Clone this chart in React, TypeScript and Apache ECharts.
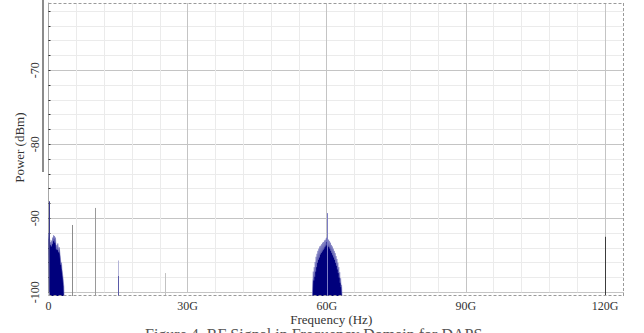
import React, { useEffect, useRef } from 'react';
import * as echarts from 'echarts';

// ---- data (frequency in GHz, power in dBm) ----
const xMajorTicks = [0, 30, 60, 90, 120];
const yMajorTicks = [-100, -90, -80, -70];

const leftClusterFreq = [0.0, 0.1, 0.2, 0.3, 0.4, 0.5, 0.6, 0.7, 0.8, 0.9, 1.0, 1.1, 1.2, 1.3, 1.4, 1.5, 1.6, 1.7, 1.8, 1.9, 2.0, 2.1, 2.2, 2.3, 2.4, 2.5, 2.6, 2.7, 2.8, 2.9, 3.0, 3.1, 3.2, 3.3, 3.35];
const leftClusterPower = [-92.0, -92.8, -93.4, -92.9, -93.6, -93.2, -93.8, -93.0, -93.5, -92.6, -93.1, -92.3, -92.8, -92.4, -93.3, -92.6, -93.5, -94.2, -93.6, -94.3, -93.4, -94.0, -94.6, -93.9, -94.4, -95.0, -95.6, -96.3, -96.0, -96.9, -97.4, -97.9, -98.6, -99.2, -100.5];

const centerClusterFreq = [56.9, 57.0, 57.1, 57.2, 57.3, 57.4, 57.5, 57.6, 57.7, 57.8, 57.9, 58.0, 58.1, 58.2, 58.3, 58.4, 58.5, 58.6, 58.7, 58.8, 58.9, 59.0, 59.1, 59.2, 59.3, 59.4, 59.5, 59.6, 59.7, 59.8, 59.9, 59.95, 60.05, 60.1, 60.2, 60.3, 60.4, 60.5, 60.6, 60.7, 60.8, 60.9, 61.0, 61.1, 61.2, 61.3, 61.4, 61.5, 61.6, 61.7, 61.8, 61.9, 62.0, 62.1, 62.2, 62.3, 62.4, 62.5, 62.6, 62.7, 62.8, 62.9, 63.0, 63.1, 63.2, 63.3];
const centerClusterPower = [-100.5, -98.6, -97.2, -98.4, -96.6, -97.9, -95.9, -97.2, -95.2, -96.6, -94.8, -96.0, -94.4, -95.6, -94.1, -95.3, -93.8, -94.9, -93.7, -94.7, -93.5, -94.5, -93.3, -94.3, -93.2, -94.1, -93.0, -93.9, -92.9, -93.7, -92.7, -93.2, -92.6, -93.6, -92.8, -93.8, -92.9, -93.9, -93.1, -94.1, -93.3, -94.4, -93.6, -94.7, -93.8, -95.0, -94.1, -95.3, -94.4, -95.6, -94.7, -96.0, -95.1, -96.4, -95.5, -96.9, -96.0, -97.4, -96.6, -98.0, -97.3, -98.7, -98.1, -99.3, -99.0, -100.5];

const spikeFreq = [0.05, 5.0, 10.1, 15.0, 15.0, 25.2, 60.0, 120.0];
const spikePower = [-87.7, -90.9, -88.6, -95.7, -97.8, -97.4, -89.3, -92.5];
const spikeColors = ['#3a3a8c', '#8c8c8c', '#9a9a9a', '#b4b4d8', '#5a5aa8', '#c2c2c2', '#7c7cc4', '#3c3c3c'];

const FLOOR = -100.5;
const X_MIN = 0;
const X_MAX = 124.1;
const Y_MIN = -100;
const Y_MAX = -60.9;

// ---- layout ----
const W = 644;
const H = 333;
const GRID_LEFT = 48.5;
const GRID_RIGHT = 20;
const GRID_TOP = 3;
const GRID_BOTTOM = 40.7;
const BORDER_BOTTOM_Y = 296;

const SERIF = "'Liberation Serif', 'Times New Roman', serif";
const MAJOR = '#c4c4c4';
const MINOR = '#ebebeb';

export default function App() {
  const ref = useRef<HTMLDivElement>(null);

  useEffect(() => {
    if (!ref.current) return;
    const chart = echarts.init(ref.current, undefined, { renderer: 'svg' });

    const leftData = leftClusterFreq.map((f, i) => [f, leftClusterPower[i]]);
    const centerData = centerClusterFreq.map((f, i) => [f, centerClusterPower[i]]);
    const spikeData = spikeFreq.map((f, i) => [f, spikePower[i]]);

    const gx0 = GRID_LEFT;
    const gx1 = W - GRID_RIGHT;
    const dash = { stroke: '#9a9a9a', lineWidth: 1, lineDash: [3, 2] };

    const clusterSeries = (data: number[][]) => ({
      type: 'line',
      data,
      symbol: 'none',
      clip: false,
      silent: true,
      lineStyle: { color: '#7474bc', width: 0.6 },
      areaStyle: { color: '#00007c', opacity: 1, origin: FLOOR },
      z: 3,
    });

    chart.setOption({
      animation: false,
      backgroundColor: '#ffffff',
      grid: { left: GRID_LEFT, right: GRID_RIGHT, top: GRID_TOP, bottom: GRID_BOTTOM, containLabel: false },
      xAxis: {
        type: 'value',
        min: X_MIN,
        max: X_MAX,
        interval: 6,
        name: 'Frequency (Hz)',
        nameLocation: 'middle',
        nameGap: 21,
        nameMoveOverlap: false,
        nameTextStyle: { fontFamily: SERIF, fontSize: 13, color: '#333', padding: [0, 10, 0, 0] },
        axisLine: { show: false },
        axisTick: { show: false },
        axisLabel: {
          interval: 0,
          margin: 8,
          fontFamily: SERIF,
          fontSize: 12,
          color: '#333',
          showMinLabel: true,
          showMaxLabel: true,
          formatter: (v: number) => {
            const hit = xMajorTicks.find((t) => Math.abs(t - v) < 1e-6);
            if (hit === undefined) return '';
            return hit === 0 ? '0' : `${hit}G`;
          },
        },
        splitLine: {
          show: true,
          showMinLine: true,
          showMaxLine: false,
          lineStyle: { color: [MAJOR, MINOR, MINOR, MINOR, MINOR], width: 1 },
        },
      },
      yAxis: {
        type: 'value',
        min: Y_MIN,
        max: Y_MAX,
        interval: 2,
        name: 'Power (dBm)',
        nameLocation: 'middle',
        nameGap: 23,
        nameMoveOverlap: false,
        nameTextStyle: { fontFamily: SERIF, fontSize: 13, color: '#333' },
        axisLine: { show: true, lineStyle: { color: '#a8a8a8', width: 1 } },
        axisTick: { show: true, inside: true, length: 2, lineStyle: { color: '#333', width: 1 } },
        axisLabel: {
          rotate: 90,
          margin: 8,
          fontFamily: SERIF,
          fontSize: 12,
          color: '#333',
          showMinLabel: true,
          showMaxLabel: false,
          formatter: (v: number) => {
            const hit = yMajorTicks.find((t) => Math.abs(t - v) < 1e-6);
            return hit === undefined ? '' : `${hit}`;
          },
        },
        splitLine: {
          show: true,
          showMinLine: true,
          showMaxLine: false,
          lineStyle: { color: [MAJOR, MINOR, MINOR, MINOR, MINOR], width: 1 },
        },
      },
      series: [
        clusterSeries(leftData),
        clusterSeries(centerData),
        {
          type: 'custom',
          data: spikeData,
          clip: false,
          silent: true,
          z: 4,
          renderItem: (params: any, api: any) => {
            const f = api.value(0);
            const p = api.value(1);
            const top = api.coord([f, p]);
            const bot = api.coord([f, FLOOR]);
            const x = Math.round(top[0]) + 0.5;
            return {
              type: 'line',
              shape: { x1: x, y1: top[1], x2: x, y2: bot[1] },
              style: { stroke: spikeColors[params.dataIndex], lineWidth: 1 },
            };
          },
        },
      ],
      graphic: [
        { type: 'rect', shape: { x: 42, y: 0, width: 2, height: 172 }, style: { fill: '#8c8c8c' }, z: 10 },
        { type: 'line', shape: { x1: gx0, y1: GRID_TOP + 0.5, x2: gx1, y2: GRID_TOP + 0.5 }, style: dash, z: 10 },
        { type: 'line', shape: { x1: gx1 - 0.5, y1: GRID_TOP, x2: gx1 - 0.5, y2: BORDER_BOTTOM_Y }, style: dash, z: 10 },
        { type: 'line', shape: { x1: gx0, y1: BORDER_BOTTOM_Y - 0.5, x2: gx1, y2: BORDER_BOTTOM_Y - 0.5 }, style: dash, z: 10 },
        { type: 'line', shape: { x1: gx0 + 0.5, y1: H - GRID_BOTTOM, x2: gx0 + 0.5, y2: BORDER_BOTTOM_Y }, style: { stroke: '#a8a8a8', lineWidth: 1 }, z: 10 },
        {
          type: 'text',
          left: 145,
          top: 326,
          style: {
            text: 'Figure 4. RF Signal in Frequency Domain for DAPS',
            fontFamily: SERIF,
            fontSize: 16,
            fill: '#555',
          },
          z: 10,
        },
      ],
    });

    return () => chart.dispose();
  }, []);

  return (
    <div
      ref={ref}
      style={{ position: 'fixed', left: 0, top: 0, width: W, height: H, background: '#fff' }}
    />
  );
}
